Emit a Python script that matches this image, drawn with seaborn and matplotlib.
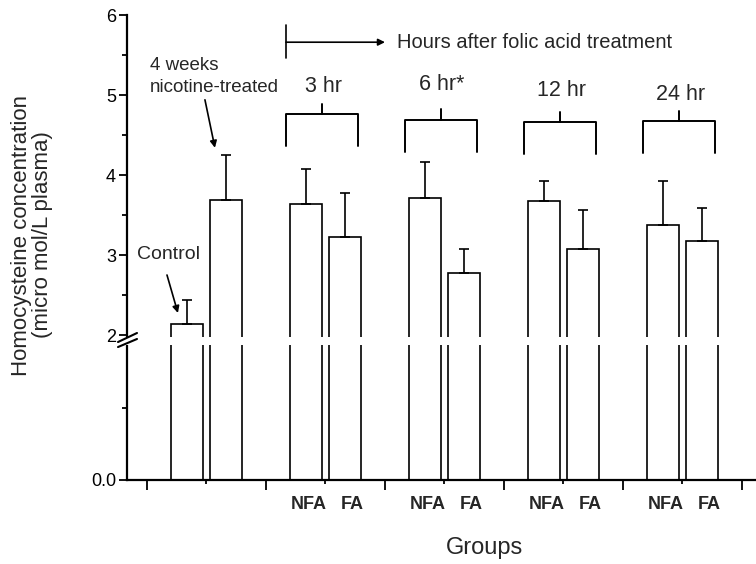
import numpy as np
import pandas as pd
import matplotlib
matplotlib.use('Agg')
import matplotlib.pyplot as plt
import matplotlib.transforms as mtransforms
from matplotlib.patches import Rectangle
import seaborn as sns

################################################################################
# data

groups = ['Control', '4 weeks nicotine-treated',
          '3 hr NFA', '3 hr FA', '6 hr NFA', '6 hr FA',
          '12 hr NFA', '12 hr FA', '24 hr NFA', '24 hr FA']
means = [2.14, 3.69, 3.64, 3.23, 3.71, 2.77, 3.67, 3.07, 3.37, 3.17]
errors = [0.30, 0.56, 0.44, 0.55, 0.45, 0.30, 0.26, 0.49, 0.56, 0.42]

hour_labels = ['3 hr', '6 hr*', '12 hr', '24 hr']
bracket_tops = [4.76, 4.69, 4.66, 4.675]
hour_label_y = [5.11, 5.125, 5.06, 5.01]

y_ticks = [0, 2, 3, 4, 5, 6]
y_tick_labels = ['0.0', '2', '3', '4', '5', '6']

################################################################################
# broken axis: 0-2 slightly compressed

LOW = 72.5 / 80

def forward(y):
    y = np.asarray(y, dtype=float)
    return np.where(y < 2, y * LOW, 2 * LOW + (y - 2))

def inverse(v):
    v = np.asarray(v, dtype=float)
    return np.where(v < 2 * LOW, v / LOW, v - 2 * LOW + 2)

################################################################################

sns.set_style('ticks')
plt.rcParams['font.family'] = ['Liberation Sans', 'DejaVu Sans']

# two bars per interval, at thirds
positions = [1 / 3, 2 / 3]
for k in range(1, 5):
    positions += [k + 1 / 3, k + 2 / 3]

df = pd.DataFrame({'group': groups, 'position': positions, 'value': means})

fig = plt.figure(figsize = (7.56, 5.64), dpi = 100)
ax = fig.add_axes([127 / 756, 1 - 480 / 564, 1 - 127 / 756, 465 / 564])

sns.barplot(
    data = df, x = 'position', y = 'value', orient = 'x',
    native_scale = True, width = 0.807, color = 'white',
    edgecolor = 'black', linewidth = 1.2, errorbar = None, ax = ax
)

ax.errorbar(
    positions, means, yerr = [np.zeros(len(errors)), errors],
    fmt = 'none', ecolor = 'black', elinewidth = 1.2,
    capsize = 3.5, capthick = 1.2, zorder = 4
)

ax.set_yscale('function', functions = (forward, inverse))
ax.set_ylim(0, 6)
ax.set_xlim(-0.168, 5.118)

ax.set_yticks(y_ticks)
ax.set_yticklabels(y_tick_labels)
ax.set_yticks([1, 2.5, 3.5, 4.5, 5.5], minor = True)
ax.set_xticks(range(6))
ax.set_xticklabels([])
ax.set_xticks([0.5, 1.5, 2.5, 3.5, 4.5], minor = True)
ax.set_xlabel('')
ax.set_ylabel('')

sns.despine(ax = ax)
for side in ['left', 'bottom']:
    ax.spines[side].set_linewidth(1.6)
    ax.spines[side].set_color('black')

ax.tick_params(axis = 'y', which = 'major', length = 6, width = 1.3,
               labelsize = 13, pad = 2, colors = 'black')
ax.tick_params(axis = 'y', which = 'minor', length = 3.5, width = 1.3,
               colors = 'black')
ax.tick_params(axis = 'x', which = 'major', length = 7, width = 1.3,
               colors = 'black')
ax.tick_params(axis = 'x', which = 'minor', length = 3, width = 1.3,
               colors = 'black')

# axis break: white band through the bars and spine, then two slashes
blend = mtransforms.blended_transform_factory(ax.transAxes, ax.transData)
ax.add_patch(Rectangle((-0.006, 1.862), 1.02, 0.11, transform = blend,
                       facecolor = 'white', edgecolor = 'none',
                       clip_on = False, zorder = 10))
for y0, y1 in [(1.903, 2.025), (1.834, 1.945)]:
    ax.plot([-0.0143, 0.0159], [y0, y1], transform = blend, color = 'black',
            lw = 1.5, clip_on = False, zorder = 11)

# hours arrow at the top
ax.plot([1.168, 1.168], [5.4625, 5.875], color = 'black', lw = 1.2)
ax.annotate('', xy = (2.0, 5.66), xytext = (1.168, 5.66),
            arrowprops = dict(arrowstyle = '-|>', color = 'black', lw = 1.2,
                              mutation_scale = 10, shrinkA = 0, shrinkB = 0))
ax.text(2.10, 5.66, 'Hours after folic acid treatment', fontsize = 14.5,
        ha = 'left', va = 'center')

# brackets over each pair
bar_w = 0.807 / 3
for i, label in enumerate(hour_labels):
    k = i + 1
    left = k + 1 / 3 - bar_w / 2 - 0.03
    right = k + 2 / 3 + bar_w / 2 - 0.03
    mid = (left + right) / 2
    top = bracket_tops[i]
    ax.plot([left, left, right, right], [top - 0.4, top, top, top - 0.4],
            color = 'black', lw = 1.4)
    ax.plot([mid, mid], [top, top + 0.13], color = 'black', lw = 1.4)
    ax.text(mid + 0.01, hour_label_y[i], label, fontsize = 15.5,
            ha = 'center', va = 'center')

# group annotations
ax.text(0.025, 5.375, '4 weeks', fontsize = 13.5, ha = 'left', va = 'center')
ax.text(0.025, 5.09, 'nicotine-treated', fontsize = 13.5, ha = 'left',
        va = 'center')
ax.annotate('', xy = (0.571, 4.34), xytext = (0.487, 4.94),
            arrowprops = dict(arrowstyle = '-|>', color = 'black', lw = 1.2,
                              mutation_scale = 10, shrinkA = 0, shrinkB = 0))
ax.text(-0.084, 3.01, 'Control', fontsize = 14, ha = 'left', va = 'center')
ax.annotate('', xy = (0.26, 2.275), xytext = (0.168, 2.75),
            arrowprops = dict(arrowstyle = '-|>', color = 'black', lw = 1.2,
                              mutation_scale = 10, shrinkA = 0, shrinkB = 0))

# NFA / FA labels under the pairs
xblend = mtransforms.blended_transform_factory(ax.transData, ax.transAxes)
for k in range(1, 5):
    ax.text(k + 1 / 3 + 0.025, -0.052, 'NFA', transform = xblend,
            fontsize = 13, fontweight = 'bold', ha = 'center', va = 'center')
    ax.text(k + 2 / 3 + 0.06, -0.052, 'FA', transform = xblend,
            fontsize = 13, fontweight = 'bold', ha = 'center', va = 'center')

ax.text(2.84, -0.146, 'Groups', transform = xblend, fontsize = 17,
        ha = 'center', va = 'center')

fig.text(32 / 756, 1 - 235 / 564,
         'Homocysteine concentration\n(micro mol/L plasma)',
         rotation = 90, fontsize = 16, ha = 'center', va = 'center',
         multialignment = 'center', linespacing = 1.05)

fig.savefig('out.png', dpi = 100)
